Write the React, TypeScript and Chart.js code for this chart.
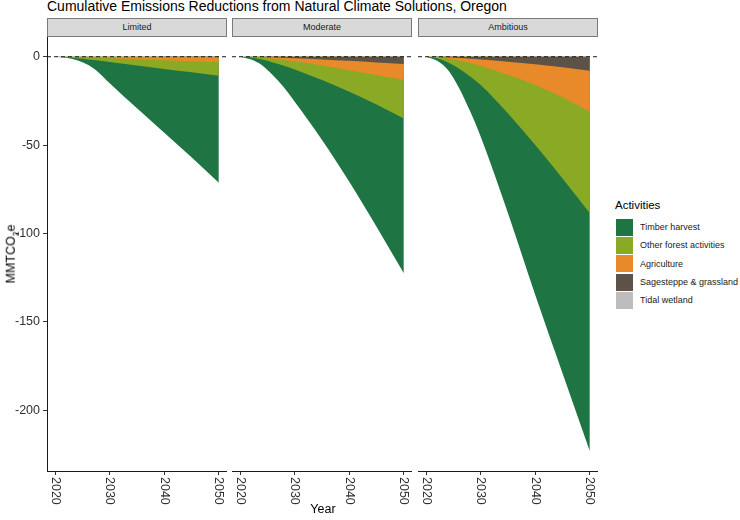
import React, { useEffect, useRef } from "react";
import { Chart, registerables } from "chart.js";

Chart.register(...registerables);

// ---------- data ----------
const years = [2020, 2022, 2024, 2026, 2028, 2030, 2035, 2040, 2045, 2050];
const panels = ["Limited", "Moderate", "Ambitious"];
const activities = [
  "Timber harvest",
  "Other forest activities",
  "Agriculture",
  "Sagesteppe & grassland",
  "Tidal wetland",
];
const activityColors = ["#1f7443", "#8aa925", "#e8892a", "#5d5248", "#bdbdbd"];

// cumulative reductions per activity (MMTCO2e, negative = reduction)
const limitedTimber = [0, -0.3, -1.2, -3.1, -6.8, -12.0, -24.3, -36.1, -48.1, -60.6];
const limitedOtherForest = [0, -0.25, -0.6, -1.15, -1.65, -2.2, -3.5, -4.9, -6.3, -7.7];
const limitedAgriculture = [0, -0.05, -0.2, -0.34, -0.53, -0.76, -1.32, -1.88, -2.34, -2.8];
const limitedSagesteppe = [0, 0, 0, -0.01, -0.01, -0.02, -0.04, -0.06, -0.08, -0.1];
const limitedTidal = [0, 0, 0, 0, -0.01, -0.02, -0.04, -0.06, -0.08, -0.1];

const moderateTimber = [0, -1.2, -3.2, -7.3, -12.2, -18.3, -33.9, -50.9, -69.2, -87.7];
const moderateOtherForest = [0, -0.25, -1.05, -2.1, -3.3, -4.6, -8.2, -12.2, -16.6, -21.7];
const moderateAgriculture = [0, -0.1, -0.38, -0.75, -1.25, -1.8, -3.5, -5.3, -7.2, -9.1];
const moderateSagesteppe = [0, -0.05, -0.17, -0.34, -0.53, -0.77, -1.44, -2.2, -3.05, -3.9];
const moderateTidal = [0, 0, 0, -0.01, -0.02, -0.03, -0.06, -0.1, -0.15, -0.2];

const ambitiousTimber = [0, -1.4, -4.3, -10.9, -19.5, -29.3, -56.5, -84.9, -110.3, -134.7];
const ambitiousOtherForest = [0, -0.6, -2.2, -4.5, -7.4, -10.7, -21.7, -34.0, -45.9, -57.5];
const ambitiousAgriculture = [0, -0.2, -0.65, -1.4, -2.5, -3.8, -7.6, -11.7, -17.0, -23.2];
const ambitiousSagesteppe = [0, -0.1, -0.34, -0.67, -1.05, -1.44, -2.7, -4.14, -5.78, -7.6];
const ambitiousTidal = [0, 0, -0.01, -0.03, -0.05, -0.06, -0.1, -0.16, -0.22, -0.3];

const panelSeries = [
  [limitedTimber, limitedOtherForest, limitedAgriculture, limitedSagesteppe, limitedTidal],
  [moderateTimber, moderateOtherForest, moderateAgriculture, moderateSagesteppe, moderateTidal],
  [ambitiousTimber, ambitiousOtherForest, ambitiousAgriculture, ambitiousSagesteppe, ambitiousTidal],
];

const xTicks = [2020, 2030, 2040, 2050];
const yTicks = [0, -50, -100, -150, -200];

// ---------- derived ranges (ggplot-like 5% expansion) ----------
const xSpan = years[years.length - 1] - years[0];
const xMin = years[0] - 0.05 * xSpan;
const xMax = years[years.length - 1] + 0.05 * xSpan;

const totals = panelSeries.map((series) =>
  years.map((_, i) => series.reduce((s, arr) => s + arr[i], 0))
);
const dataMin = Math.min(0, ...totals.flat());
const dataMax = 0;
const ySpan = dataMax - dataMin;
const yMin = dataMin - 0.05 * ySpan;
const yMax = dataMax + 0.05 * ySpan;

// ---------- layout ----------
const FONT = '"Liberation Sans", Arial, Helvetica, sans-serif';
const PANEL_W = 180;
const PANEL_LEFTS = [47, 232, 418];
const PLOT_TOP = 37;
const PLOT_BOTTOM = 471;
const Y_AXIS_W = 47;
const X_AXIS_H = 49;

const axisLabelPlugin = {
  id: "axisLabelsCustom",
  afterDraw(chart: any) {
    const ctx = chart.ctx;
    const area = chart.chartArea;
    ctx.save();
    ctx.fillStyle = "#303030";
    ctx.font = `12.5px ${FONT}`;
    // x labels, rotated clockwise, reading downwards
    const xs = chart.scales.x;
    ctx.textAlign = "left";
    ctx.textBaseline = "middle";
    xTicks.forEach((v) => {
      const px = xs.getPixelForValue(v);
      ctx.save();
      ctx.translate(px, area.bottom + 6);
      ctx.rotate(Math.PI / 2);
      ctx.fillText(String(v), 0, 0);
      ctx.restore();
    });
    // y labels (first panel only)
    const ys = chart.scales.y;
    if (ys.options.display) {
      ctx.textAlign = "right";
      ctx.textBaseline = "middle";
      yTicks.forEach((v) => {
        const py = ys.getPixelForValue(v);
        ctx.fillText(String(v), area.left - 7, py);
      });
    }
    ctx.restore();
  },
};

function Panel({ index }: { index: number }) {
  const ref = useRef<HTMLCanvasElement>(null);
  const first = index === 0;
  const canvasLeft = first ? PANEL_LEFTS[0] - Y_AXIS_W : PANEL_LEFTS[index];
  const canvasW = first ? Y_AXIS_W + PANEL_W : PANEL_W;
  const canvasH = PLOT_BOTTOM - PLOT_TOP + X_AXIS_H;

  useEffect(() => {
    if (!ref.current) return;
    const series = panelSeries[index];
    // cumulative boundaries from zero outward: tidal, sage, agri, other forest, timber
    const outward = [4, 3, 2, 1, 0];
    const cum: number[][] = [];
    let running = years.map(() => 0);
    outward.forEach((ai) => {
      running = running.map((v, i) => v + series[ai][i]);
      cum.push(running.slice());
    });

    const areaSets = outward.map((ai, k) => ({
      label: activities[ai],
      data: years.map((yr, i) => ({ x: yr, y: cum[k][i] })),
      backgroundColor: activityColors[ai],
      borderColor: activityColors[ai],
      borderWidth: 0,
      pointRadius: 0,
      fill: "origin",
      cubicInterpolationMode: "monotone",
      order: 0,
    }));

    const zeroLine = {
      label: "zero",
      data: [
        { x: xMin, y: 0 },
        { x: xMax, y: 0 },
      ],
      borderColor: "#1a1a1a",
      borderWidth: 1,
      borderDash: [4, 3],
      pointRadius: 0,
      fill: false,
      order: -1,
    };

    const chart = new Chart(ref.current, {
      type: "line",
      data: { datasets: [...areaSets, zeroLine] as any },
      options: {
        animation: false,
        responsive: false,
        maintainAspectRatio: false,
        events: [],
        layout: { padding: 0 },
        plugins: {
          legend: { display: false },
          tooltip: { enabled: false },
          title: { display: false },
        },
        scales: {
          x: {
            type: "linear",
            min: xMin,
            max: xMax,
            afterBuildTicks: (s: any) => {
              s.ticks = xTicks.map((v) => ({ value: v }));
            },
            afterFit: (s: any) => {
              s.height = X_AXIS_H;
            },
            grid: {
              display: true,
              drawOnChartArea: false,
              drawTicks: true,
              tickLength: 4,
              color: "#333333",
              lineWidth: 1,
            },
            border: { display: true, color: "#1a1a1a", width: 1 },
            ticks: { display: false },
          },
          y: {
            type: "linear",
            display: first,
            min: yMin,
            max: yMax,
            afterBuildTicks: (s: any) => {
              s.ticks = yTicks.map((v) => ({ value: v }));
            },
            afterFit: (s: any) => {
              s.width = first ? Y_AXIS_W : 0;
            },
            grid: {
              display: true,
              drawOnChartArea: false,
              drawTicks: true,
              tickLength: 4,
              color: "#333333",
              lineWidth: 1,
            },
            border: { display: true, color: "#1a1a1a", width: 1 },
            ticks: { display: false },
          },
        },
      } as any,
      plugins: [axisLabelPlugin],
    });
    return () => chart.destroy();
  }, [index]);

  return (
    <canvas
      ref={ref}
      width={canvasW}
      height={canvasH}
      style={{
        position: "absolute",
        left: canvasLeft,
        top: PLOT_TOP,
        width: canvasW,
        height: canvasH,
      }}
    />
  );
}

export default function App() {
  return (
    <div
      style={{
        position: "fixed",
        left: 0,
        top: 0,
        width: 740,
        height: 520,
        background: "#ffffff",
        fontFamily: FONT,
        overflow: "hidden",
      }}
    >
      <div
        style={{
          position: "absolute",
          left: 47,
          top: -1,
          fontSize: 14,
          lineHeight: "14px",
          color: "#000",
          whiteSpace: "nowrap",
        }}
      >
        Cumulative Emissions Reductions from Natural Climate Solutions, Oregon
      </div>

      {panels.map((p, i) => (
        <div
          key={p}
          style={{
            position: "absolute",
            left: PANEL_LEFTS[i],
            top: 18,
            width: PANEL_W,
            height: 19,
            boxSizing: "border-box",
            background: "#d9d9d9",
            border: "1px solid #7a7a7a",
            fontSize: 9,
            lineHeight: "17px",
            textAlign: "center",
            color: "#1a1a1a",
          }}
        >
          {p}
        </div>
      ))}

      {panels.map((p, i) => (
        <Panel key={p} index={i} />
      ))}

      <div
        style={{
          position: "absolute",
          left: 12,
          top: 254,
          transform: "translate(-50%, -50%) rotate(-90deg)",
          fontSize: 12.5,
          color: "#000",
          whiteSpace: "nowrap",
        }}
      >
        MMTCO<sub style={{ fontSize: 8.5 }}>2</sub>e
      </div>

      <div
        style={{
          position: "absolute",
          left: 323,
          top: 509,
          transform: "translate(-50%, -50%)",
          fontSize: 12.5,
          color: "#000",
          whiteSpace: "nowrap",
        }}
      >
        Year
      </div>

      <div style={{ position: "absolute", left: 615, top: 198 }}>
        <div style={{ fontSize: 11.5, lineHeight: "14px", color: "#000", marginBottom: 6 }}>
          Activities
        </div>
        {activities.map((a, i) => (
          <div
            key={a}
            style={{ display: "flex", alignItems: "center", height: 18.3 }}
          >
            <div
              style={{
                width: 17,
                height: 17,
                background: activityColors[i],
                marginLeft: 1,
              }}
            />
            <div style={{ fontSize: 9, marginLeft: 7, color: "#1a1a1a", whiteSpace: "nowrap" }}>
              {a}
            </div>
          </div>
        ))}
      </div>
    </div>
  );
}
